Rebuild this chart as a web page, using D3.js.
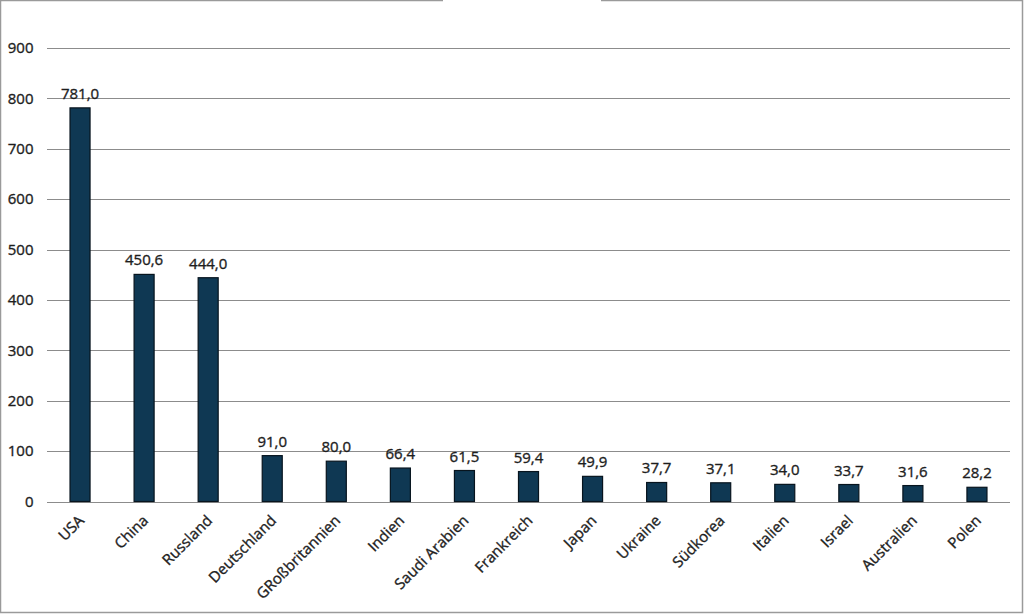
<!DOCTYPE html>
<html><head><meta charset="utf-8">
<script src="https://cdn.jsdelivr.net/npm/d3@7"></script>
<style>body{margin:0;background:#fff}svg{display:block}</style>
</head><body>
<svg id="c" width="1024" height="614"></svg>
<script>
const categories = ["USA","China","Russland","Deutschland","GRoßbritannien","Indien","Saudi Arabien","Frankreich","Japan","Ukraine","Südkorea","Italien","Israel","Australien","Polen"];
const values = [781.0,450.6,444.0,91.0,80.0,66.4,61.5,59.4,49.9,37.7,37.1,34.0,33.7,31.6,28.2];
const yTicks = [0,100,200,300,400,500,600,700,800,900];

const svg = d3.select("#c");
const font = "'Open Sans', 'Noto Sans', sans-serif";
const tc = "#1e1e1e";
const bc = "#9a9a9a";
svg.append("path").attr("d","M443,0.5 H0.5 V612.5 H1022.5 V0.5 H601").attr("fill","none").attr("stroke",bc).attr("stroke-width",1.5);

const x = d3.scaleBand().domain(categories).range([48,1009]).paddingInner(0.6875).paddingOuter(0.34375);
const y = d3.scaleLinear().domain([0,900]).range([501.5,47.9]);

const g = svg.append("g");
g.selectAll("line.grid").data(yTicks).join("line")
  .attr("x1",47).attr("x2",1010)
  .attr("y1",d=>Math.round(y(d))+0.5).attr("y2",d=>Math.round(y(d))+0.5)
  .attr("stroke","#8c8c8c").attr("stroke-width",1);

const styleText = sel => sel.attr("font-family",font).attr("font-size",15).attr("fill",tc)
  .attr("stroke",tc).attr("stroke-width",0.35);

const yAxis = d3.axisLeft(y).tickValues(yTicks).tickSize(0).tickPadding(0).tickFormat(d3.format("d"));
const ya = svg.append("g").attr("transform","translate(33.5,0)").call(yAxis);
ya.select(".domain").remove();
ya.selectAll("text").call(styleText);

g.selectAll("rect.bar").data(values).join("rect")
  .attr("x",(d,i)=>x(categories[i])).attr("width",x.bandwidth())
  .attr("y",d=>y(d)).attr("height",d=>y(0)-y(d))
  .attr("fill","#0f3853").attr("stroke","#07141e").attr("stroke-width",1.2);

const fmt = v => v.toFixed(1).replace(".",",");
g.selectAll("text.val").data(values).join("text")
  .attr("x",(d,i)=>x(categories[i])+x.bandwidth()/2)
  .attr("y",d=>y(d)-9)
  .attr("text-anchor","middle")
  .call(styleText)
  .text(fmt);

const xAxis = d3.axisBottom(x).tickSize(0).tickPadding(0);
const xa = svg.append("g").attr("transform","translate(0,501.5)").call(xAxis);
xa.select(".domain").remove();
xa.selectAll("text")
  .call(styleText)
  .attr("text-anchor","end").attr("dy",null).attr("y",0).attr("x",0)
  .attr("transform","translate(5,20) rotate(-45)");
</script>
</body></html>
